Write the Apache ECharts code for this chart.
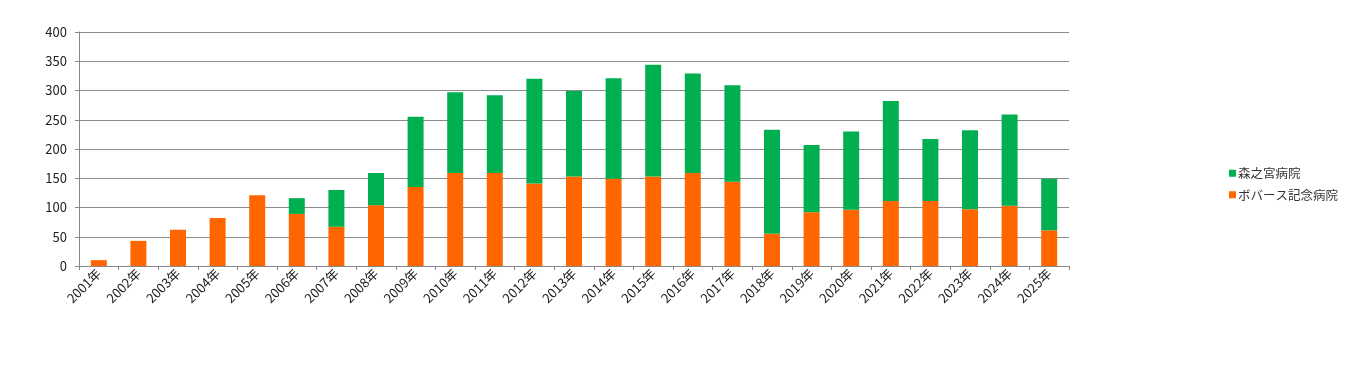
<!DOCTYPE html>
<html>
<head>
<meta charset="utf-8">
<script src="https://cdn.jsdelivr.net/npm/echarts@6/dist/echarts.min.js"></script>
<style>
html,body{margin:0;padding:0;background:#fff;}
#c{width:1354px;height:369px;}
</style>
</head>
<body>
<div id="c"></div>
<script>
const categories = ['2001年','2002年','2003年','2004年','2005年','2006年','2007年','2008年','2009年','2010年','2011年','2012年','2013年','2014年','2015年','2016年','2017年','2018年','2019年','2020年','2021年','2022年','2023年','2024年','2025年'];
const bobathValues = [10,43,62,82,121,89,67,104,135,159,159,141,153,149,153,159,144,55,92,96,111,111,97,103,61];
const morinomiyaValues = [0,0,0,0,0,27,63,55,120,138,133,179,146,172,191,170,165,178,115,134,171,106,135,156,88];
const seriesNames = ['森之宮病院','ボバース記念病院'];
const yTicks = [0,50,100,150,200,250,300,350,400];

const font = '"Noto Sans CJK JP", "Noto Sans", sans-serif';
const chart = echarts.init(document.getElementById('c'), null, {renderer:'canvas'});
chart.setOption({
  animation:false,
  backgroundColor:'#fff',
  grid:{left:79,right:285,top:32,bottom:103,containLabel:false},
  legend:{
    orient:'vertical',
    left:1224,
    top:162,
    itemWidth:7,
    itemHeight:7,
    itemGap:9,
    icon:'rect',
    data:seriesNames,
    textStyle:{fontFamily:font,fontSize:12.5,color:'#333',padding:[0,0,0,-3]}
  },
  xAxis:{
    type:'category',
    data:categories,
    axisLine:{lineStyle:{color:'#888',width:1}},
    axisTick:{show:true,length:4,lineStyle:{color:'#888'}},
    axisLabel:{rotate:45,fontFamily:font,fontSize:13,color:'#222',margin:5,interval:0}
  },
  yAxis:{
    type:'value',
    min:yTicks[0],
    max:yTicks[yTicks.length-1],
    interval:50,
    axisLine:{show:true,lineStyle:{color:'#888',width:1}},
    axisTick:{show:true,length:4,lineStyle:{color:'#888'}},
    splitLine:{lineStyle:{color:'#8c8c8c',width:1}},
    axisLabel:{fontFamily:font,fontSize:13,color:'#222',margin:12}
  },
  series:[
    {name:seriesNames[1],type:'bar',stack:'a',data:bobathValues,barWidth:16,itemStyle:{color:'#FF6600'}},
    {name:seriesNames[0],type:'bar',stack:'a',data:morinomiyaValues,barWidth:16,itemStyle:{color:'#00B050'}}
  ]
});
</script>
</body>
</html>
